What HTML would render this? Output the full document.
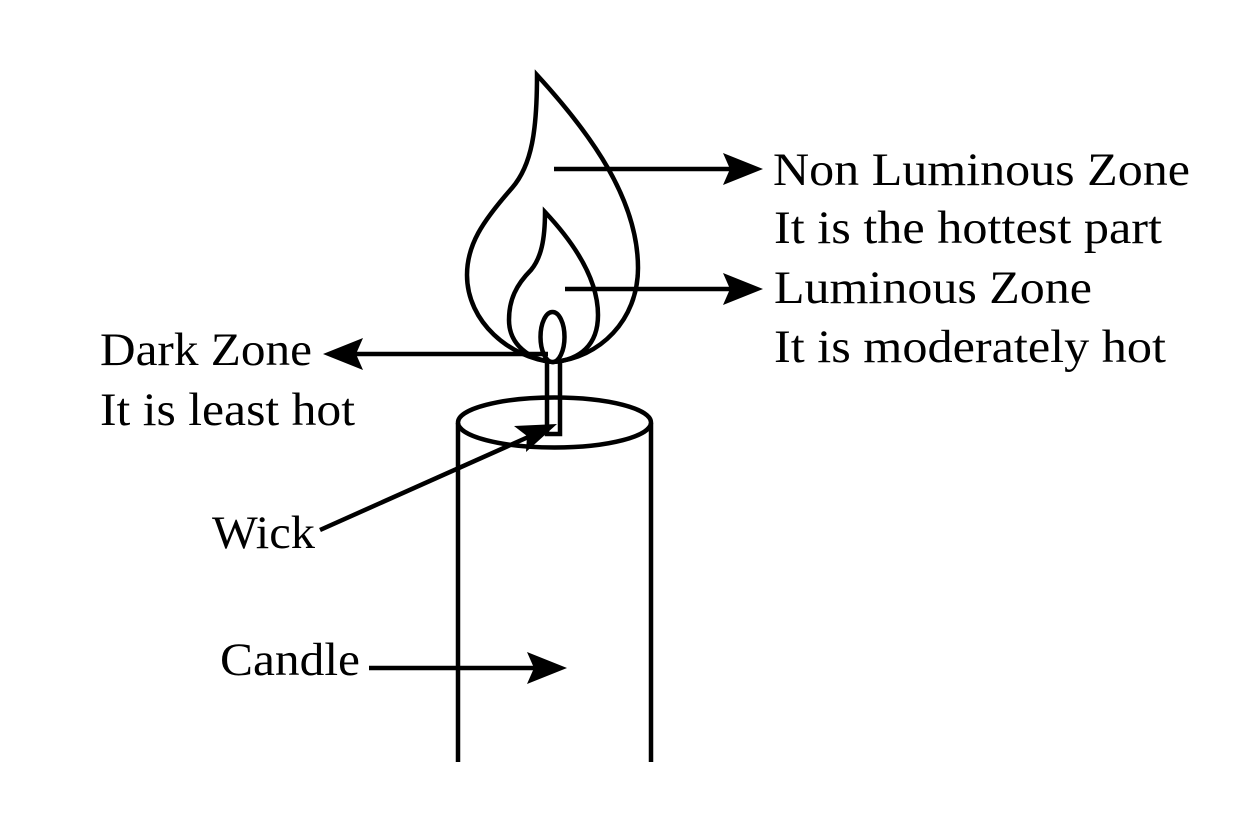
<!DOCTYPE html>
<html><head><style>html,body{margin:0;padding:0;background:#fff}svg{display:block}</style></head><body>
<svg width="1245" height="832" viewBox="0 0 1245 832" xmlns="http://www.w3.org/2000/svg">
<g fill="none" stroke="#000" stroke-width="4.5" stroke-linejoin="miter">
<line x1="458" y1="423" x2="458" y2="762"/>
<line x1="651" y1="423" x2="651" y2="762"/>
<ellipse cx="554.5" cy="422.5" rx="96.5" ry="25"/>
<polyline points="547,362 547,434 560,434 560,362"/>
<path d="M537,75 C537,130 532,165 512,188 C482,222 467,245 467,275 C467,322 510,358 553,362 C600,358 638,320 638,268 C638,200 592,135 537,75 Z"/>
<path d="M545,212 C545,240 541,258 531,270 C516,285 509,300 509,320 C509,345 530,360 553,362 C580,360 598,345 598,315 C598,280 576,245 545,212 Z"/>
<ellipse cx="552.5" cy="337" rx="12" ry="25" fill="#fff"/>
<line x1="554" y1="169" x2="735" y2="169"/>
<line x1="565" y1="289" x2="735" y2="289"/>
<line x1="548" y1="354" x2="355" y2="354"/>
<line x1="369" y1="668" x2="540" y2="668"/>
<line x1="320" y1="530" x2="535" y2="434"/>
</g>
<g fill="#000">
<path d="M763,169 L723,153 L730,169 L723,185 Z"/>
<path d="M763,289 L723,273 L730,289 L723,305 Z"/>
<path d="M323,354 L363,338 L356,354 L363,370 Z"/>
<path d="M567,668 L527,652 L534,668 L527,684 Z"/>
<path d="M557,424 L514,426 L527,436 L526,452 Z"/>
</g>
<g font-family="'Liberation Serif',serif" font-size="47" fill="#000" lengthAdjust="spacingAndGlyphs">
<text x="773" y="185" textLength="417" lengthAdjust="spacingAndGlyphs">Non Luminous Zone</text>
<text x="774" y="243" textLength="388" lengthAdjust="spacingAndGlyphs">It is the hottest part</text>
<text x="774" y="303" textLength="318" lengthAdjust="spacingAndGlyphs">Luminous Zone</text>
<text x="774" y="362" textLength="392" lengthAdjust="spacingAndGlyphs">It is moderately hot</text>
<text x="100" y="365" textLength="212" lengthAdjust="spacingAndGlyphs">Dark Zone</text>
<text x="100" y="425" textLength="255" lengthAdjust="spacingAndGlyphs">It is least hot</text>
<text x="212" y="548" textLength="103" lengthAdjust="spacingAndGlyphs">Wick</text>
<text x="220" y="675" textLength="140" lengthAdjust="spacingAndGlyphs">Candle</text>
</g>
</svg>
</body></html>
